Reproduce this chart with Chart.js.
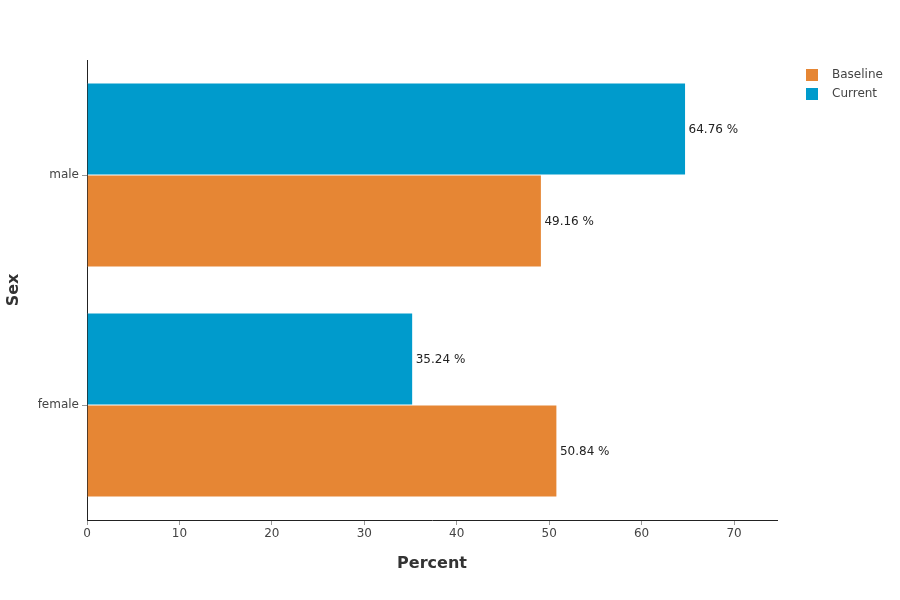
<!DOCTYPE html>
<html>
<head>
<meta charset="utf-8">
<script src="https://cdn.jsdelivr.net/npm/chart.js@4.4.1/dist/chart.umd.min.js"></script>
<style>
  html, body { margin: 0; padding: 0; background: #fff; }
  #wrap { width: 900px; height: 600px; }
</style>
</head>
<body>
<div id="wrap"><canvas id="sex_chart" width="900" height="600"></canvas></div>
<script>
// data
var categories = ['male', 'female'];
var currentValues = [64.76, 35.24];
var baselineValues = [49.16, 50.84];
var xTicks = [0, 10, 20, 30, 40, 50, 60, 70];

var BLUE = '#009bcc';
var ORANGE = '#e68634';

Chart.defaults.font.family = "'DejaVu Sans', Verdana, sans-serif";
Chart.defaults.font.size = 12;
Chart.defaults.color = '#444';

// value labels to the right of each bar
var barLabels = {
    id: 'barLabels',
    afterDatasetsDraw: function (chart) {
        var ctx = chart.ctx;
        ctx.save();
        ctx.font = "12px 'DejaVu Sans', Verdana, sans-serif";
        ctx.fillStyle = '#222';
        ctx.textAlign = 'left';
        ctx.textBaseline = 'middle';
        chart.data.datasets.forEach(function (ds, i) {
            var meta = chart.getDatasetMeta(i);
            meta.data.forEach(function (bar, j) {
                ctx.fillText(ds.data[j].toFixed(2) + ' %', bar.x + 3, bar.y + 1);
            });
        });
        ctx.restore();
    }
};

// legend top right, baseline first
var sideLegend = {
    id: 'sideLegend',
    afterDraw: function (chart) {
        var ctx = chart.ctx;
        var items = chart.data.datasets.slice().reverse();
        ctx.save();
        ctx.font = "12px 'DejaVu Sans', Verdana, sans-serif";
        ctx.textBaseline = 'middle';
        items.forEach(function (ds, i) {
            var y = 75 + i * 19;
            ctx.fillStyle = ds.backgroundColor;
            ctx.fillRect(806, y - 6, 12, 12);
            ctx.fillStyle = '#444';
            ctx.fillText(ds.label, 832, y);
        });
        ctx.restore();
    }
};

var ctx = document.getElementById('sex_chart').getContext('2d');
var sexChart = new Chart(ctx, {
    type: 'bar',
    data: {
        labels: categories,
        datasets: [{
            label: 'Current',
            data: currentValues,
            backgroundColor: BLUE,
            borderColor: 'rgba(255,255,255,0.7)',
            borderWidth: 0.5,
            categoryPercentage: 0.8,
            barPercentage: 1.0
        }, {
            label: 'Baseline',
            data: baselineValues,
            backgroundColor: ORANGE,
            borderColor: 'rgba(255,255,255,0.7)',
            borderWidth: 0.5,
            categoryPercentage: 0.8,
            barPercentage: 1.0
        }]
    },
    options: {
        indexAxis: 'y',
        responsive: false,
        animation: false,
        layout: { padding: { top: 60, right: 123, left: 0, bottom: 0 } },
        plugins: {
            legend: { display: false },
            tooltip: { enabled: false }
        },
        scales: {
            x: {
                min: 0,
                max: 74.65,
                afterFit: function (scale) { scale.height = 80; },
                afterBuildTicks: function (scale) {
                    scale.ticks = xTicks.map(function (v) { return { value: v }; });
                },
                ticks: { padding: 2, color: '#444' },
                grid: {
                    display: true,
                    drawOnChartArea: false,
                    drawTicks: true,
                    tickLength: 5,
                    color: '#999'
                },
                border: { display: true, color: '#222', width: 1 },
                title: {
                    display: true,
                    text: 'Percent',
                    color: '#333',
                    font: { size: 16, weight: 'bold' },
                    padding: { top: 4, bottom: 27 }
                }
            },
            y: {
                afterFit: function (scale) { scale.width = 87; },
                ticks: { padding: 3, color: '#444' },
                grid: {
                    display: true,
                    offset: false,
                    drawOnChartArea: false,
                    drawTicks: true,
                    tickLength: 5,
                    color: '#999'
                },
                border: { display: true, color: '#222', width: 1 },
                title: {
                    display: true,
                    text: 'Sex',
                    color: '#333',
                    font: { size: 16, weight: 'bold' },
                    padding: { top: 4, bottom: 0 }
                }
            }
        }
    },
    plugins: [barLabels, sideLegend]
});
</script>
</body>
</html>
